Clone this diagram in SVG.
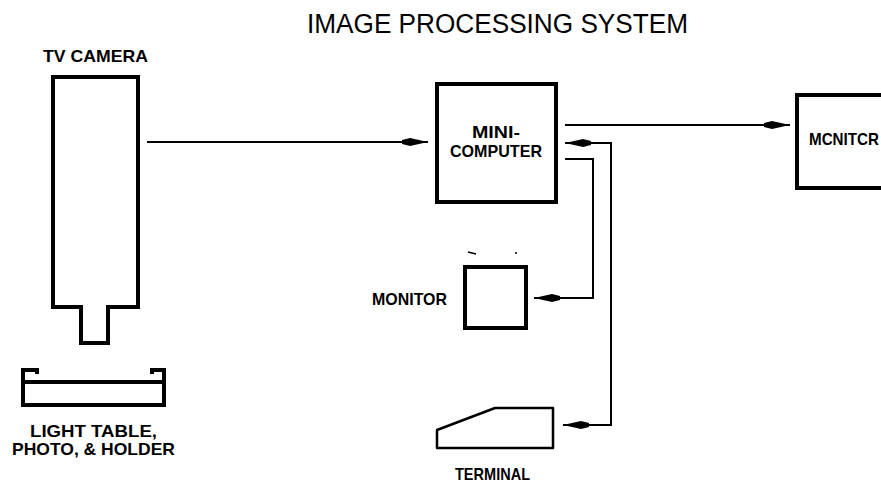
<svg xmlns="http://www.w3.org/2000/svg" width="881" height="483" viewBox="0 0 881 483">
<style>
.bg{fill:#fff}
.box{fill:none;stroke:#000;stroke-width:4;stroke-linejoin:miter}
.thin{fill:none;stroke:#000;stroke-width:2.5;stroke-linejoin:round}
.conn{fill:none;stroke:#000;stroke-width:2}
.lbl{font-family:"Liberation Sans",Arial,sans-serif;font-weight:bold;font-size:17px;fill:#000}
.title{font-family:"Liberation Sans",Arial,sans-serif;font-size:27px;fill:#000}
</style>
<defs>
<marker id="ah" markerUnits="userSpaceOnUse" markerWidth="27" markerHeight="10" viewBox="-27 -5 27 10" refX="0" refY="0" orient="auto-start-reverse">
<path d="M0,0 L-18,-4 L-26,-2 L-26,2 L-18,4 Z" fill="#000"/>
</marker>
</defs>
<rect class="bg" x="0" y="0" width="881" height="483"/>
<text class="title" x="307" y="33" textLength="381" lengthAdjust="spacingAndGlyphs">IMAGE PROCESSING SYSTEM</text>

<g id="camera">
<path class="box" d="M53,77 H138 V307 H108 V343 H81 V307 H53 Z" stroke-width="3.5"/>
<text class="lbl" x="43" y="62" textLength="105" lengthAdjust="spacingAndGlyphs">TV CAMERA</text>
</g>

<g id="lighttable">
<path class="box" d="M37,374 V370 H23 V405 H164 V370 H152 V374" stroke-width="3.5"/>
<path class="box" d="M23,382 H164" stroke-width="3.5"/>
<text class="lbl" x="30" y="437" textLength="127" lengthAdjust="spacingAndGlyphs">LIGHT TABLE,</text>
<text class="lbl" x="12" y="455" textLength="163" lengthAdjust="spacingAndGlyphs">PHOTO, &amp; HOLDER</text>
</g>

<g id="minicomputer">
<rect class="box" x="437" y="84" width="119" height="118"/>
<text class="lbl" x="472" y="138" textLength="48" lengthAdjust="spacingAndGlyphs">MINI-</text>
<text class="lbl" x="450" y="157" textLength="92" lengthAdjust="spacingAndGlyphs">COMPUTER</text>
</g>

<g id="monitor-right">
<rect class="box" x="797" y="95" width="120" height="93"/>
<text class="lbl" x="809" y="145" textLength="70" lengthAdjust="spacingAndGlyphs">MCNITCR</text>
</g>

<g id="monitor-small">
<rect class="box" x="465" y="267" width="61" height="61"/>
<text class="lbl" x="372" y="305" textLength="75" lengthAdjust="spacingAndGlyphs">MONITOR</text>
<path d="M468,252 L476,254" stroke="#000" stroke-width="1.5"/>
<circle cx="516" cy="253" r="1" fill="#000"/>
</g>

<g id="terminal">
<polygon class="thin" points="437,430 495,408 553,408 553,448 437,448"/>
<text class="lbl" x="455" y="480" textLength="75" lengthAdjust="spacingAndGlyphs">TERMINAL</text>
</g>

<g id="connectors">
<path class="conn" d="M147,142 H428" marker-end="url(#ah)"/>
<path class="conn" d="M565,125 H790" marker-end="url(#ah)"/>
<path class="conn" d="M565,143 H611 V425 H563" marker-start="url(#ah)" marker-end="url(#ah)"/>
<path class="conn" d="M565,159 H593 V298 H534" marker-end="url(#ah)"/>
</g>
</svg>
